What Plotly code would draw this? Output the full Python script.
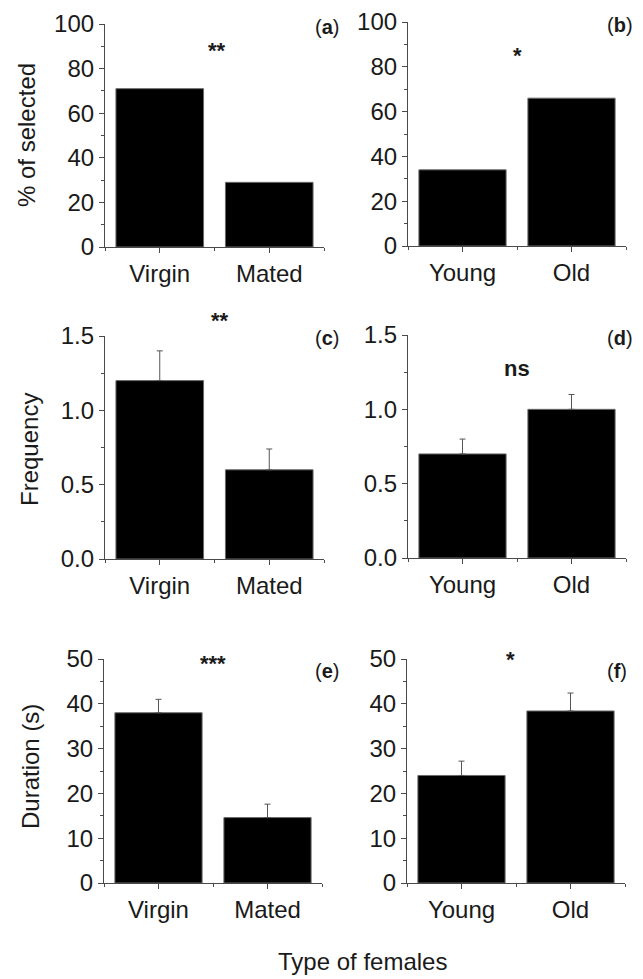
import plotly.graph_objects as go

# ---- data ----
cats_mating = ["Virgin", "Mated"]
cats_age = ["Young", "Old"]

pct_mating = [71, 29]
pct_age = [34, 66]

freq_mating = [1.2, 0.6]
freq_mating_err = [0.2, 0.14]
freq_age = [0.7, 1.0]
freq_age_err = [0.1, 0.1]

dur_mating = [38, 14.6]
dur_mating_err = [3, 3]
dur_age = [24, 38.4]
dur_age_err = [3.2, 4.0]

pct_ticks = [0, 20, 40, 60, 80, 100]
freq_ticks = [0.0, 0.5, 1.0, 1.5]
dur_ticks = [0, 10, 20, 30, 40, 50]

panel_letters = ["a", "b", "c", "d", "e", "f"]
sig_marks = ["**", "*", "**", "ns", "***", "*"]
sig_y = [87, 84, 1.59, 1.26, 48.6, 49.5]
sig_x = [0.52, 0.5, 0.55, 0.5, 0.5, 0.45]

y_titles = ["% of selected", "Frequency", "Duration (s)"]
x_title = "Type of females"

W, H = 643, 979
FONT = "Liberation Sans, Arial, sans-serif"
AXC = "#4a4a4a"
TXT = "#1a1a1a"

# panel pixel boxes (left, right, top, bottom)
boxes = [
    (105, 324, 24, 247), (408, 626, 22, 246),
    (105, 324, 336, 559), (408, 626, 335, 558),
    (104, 322, 659, 883), (407, 625, 659, 883),
]
# panel-letter positions (left edge x, centre y) in pixels
letter_pos = [(313, 27), (605, 25), (313, 338), (605, 338), (313, 671), (605, 671)]

panels = [
    (cats_mating, pct_mating, None, pct_ticks, [0, 100], [str(v) for v in pct_ticks]),
    (cats_age, pct_age, None, pct_ticks, [0, 100], [str(v) for v in pct_ticks]),
    (cats_mating, freq_mating, freq_mating_err, freq_ticks, [0, 1.5], [f"{v:.1f}" for v in freq_ticks]),
    (cats_age, freq_age, freq_age_err, freq_ticks, [0, 1.5], [f"{v:.1f}" for v in freq_ticks]),
    (cats_mating, dur_mating, dur_mating_err, dur_ticks, [0, 50], [str(v) for v in dur_ticks]),
    (cats_age, dur_age, dur_age_err, dur_ticks, [0, 50], [str(v) for v in dur_ticks]),
]

fig = go.Figure()
layout = {}
annotations = []

for i, (cats, vals, errs, yt, yr, ytt) in enumerate(panels):
    n = i + 1
    xa = "x" if n == 1 else f"x{n}"
    ya = "y" if n == 1 else f"y{n}"
    xkey = "xaxis" if n == 1 else f"xaxis{n}"
    ykey = "yaxis" if n == 1 else f"yaxis{n}"
    l, r, t, b = boxes[i]
    xs = list(range(len(cats)))
    bar = dict(
        x=xs, y=vals, xaxis=xa, yaxis=ya, width=0.8,
        marker=dict(color="black", line=dict(color="#6a6a6a", width=1)),
        showlegend=False, hoverinfo="skip",
    )
    if errs is not None:
        bar["error_y"] = dict(type="data", array=errs, arrayminus=[0] * len(errs),
                              symmetric=False, color="#555555", thickness=1, width=3)
    fig.add_trace(go.Bar(**bar))

    xdom = [l / W, r / W]
    ydom = [1 - b / H, 1 - t / H]
    minor_d = (yt[1] - yt[0]) / 2
    layout[xkey] = dict(
        domain=xdom, anchor=ya, range=[-0.5, 1.5],
        tickvals=xs, ticktext=cats, ticks="outside", ticklen=5, tickwidth=1,
        tickcolor=AXC, showline=True, linecolor=AXC, linewidth=1.2,
        showgrid=False, zeroline=False, automargin=False,
        tickfont=dict(family=FONT, size=24, color=TXT),
        minor=dict(tick0=0.5, dtick=1, ticks="outside", ticklen=3, tickcolor=AXC, showgrid=False),
    )
    layout[ykey] = dict(
        domain=ydom, anchor=xa, range=yr,
        tickvals=yt, ticktext=ytt, ticks="outside", ticklen=5, tickwidth=1,
        tickcolor=AXC, showline=True, linecolor=AXC, linewidth=1.2,
        showgrid=False, zeroline=False, automargin=False,
        tickfont=dict(family=FONT, size=24, color=TXT),
        minor=dict(tick0=yt[0], dtick=minor_d, ticks="outside", ticklen=3, tickcolor=AXC, showgrid=False),
    )

    # panel letter
    lx, ly = letter_pos[i]
    annotations.append(dict(
        xref="paper", yref="paper", x=lx / W, y=1 - ly / H,
        xanchor="left", yanchor="middle", showarrow=False,
        text=f"(<b>{panel_letters[i]}</b>)",
        font=dict(family=FONT, size=20, color=TXT),
    ))
    # significance (converted from data values to paper coords so it may sit above the axis)
    px = xdom[0] + (sig_x[i] + 0.5) / 2.0 * (xdom[1] - xdom[0])
    py = ydom[0] + (sig_y[i] - yr[0]) / (yr[1] - yr[0]) * (ydom[1] - ydom[0])
    annotations.append(dict(
        xref="paper", yref="paper", x=px, y=py,
        xanchor="center", yanchor="middle", showarrow=False,
        text=f"<b>{sig_marks[i]}</b>", yshift=2,
        font=dict(family=FONT, size=22, color=TXT),
    ))

# y-axis titles
for title, cy, cx in zip(y_titles, [135, 450, 767], [27, 29, 30]):
    annotations.append(dict(
        xref="paper", yref="paper", x=cx / W, y=1 - cy / H,
        xanchor="center", yanchor="middle", showarrow=False, textangle=-90,
        text=title, font=dict(family=FONT, size=24, color=TXT),
    ))

annotations.append(dict(
    xref="paper", yref="paper", x=362 / W, y=1 - 961 / H,
    xanchor="center", yanchor="middle", showarrow=False,
    text=x_title, font=dict(family=FONT, size=24, color=TXT),
))

fig.update_layout(
    width=W, height=H,
    margin=dict(l=0, r=0, t=0, b=0, pad=0, autoexpand=False),
    paper_bgcolor="white", plot_bgcolor="white",
    annotations=annotations, bargap=0.2,
    **layout,
)

fig.write_html(
    "out.html",
    config={"displayModeBar": False},
    post_script="document.body.style.margin='0';document.body.style.overflow='hidden';",
)
